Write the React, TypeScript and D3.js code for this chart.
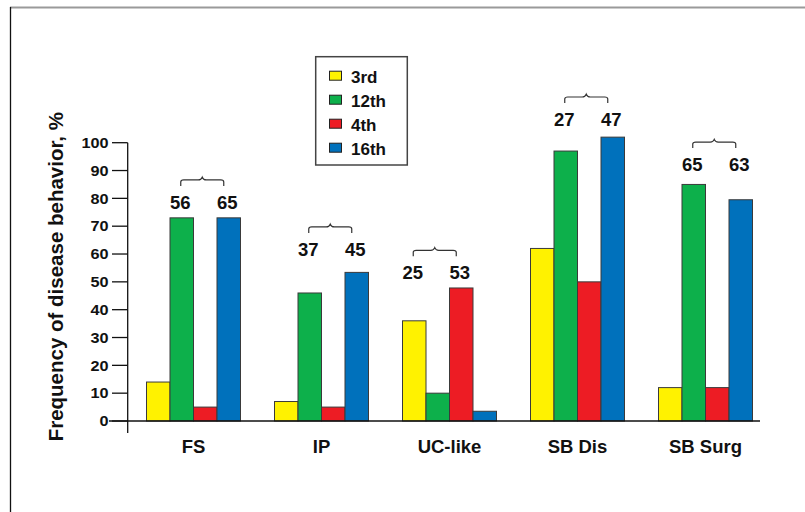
import React from "react";
import * as d3 from "d3";

const categories = ["FS", "IP", "UC-like", "SB Dis", "SB Surg"];
const seriesKeys = ["3rd", "12th", "4th", "16th"];
const values3rd = [14, 7, 36, 62, 12];
const values12th = [73, 46, 10, 97, 85];
const values4th = [5, 5, 47.8, 50, 12];
const values16th = [73, 53.4, 3.5, 102, 79.5];
const yTicks = [0, 10, 20, 30, 40, 50, 60, 70, 80, 90, 100];

// annotation pairs: which two series each bracket covers, their labels, and the label level (in %)
const annotLeftSeries = ["12th", "12th", "3rd", "12th", "12th"];
const annotRightSeries = ["16th", "16th", "4th", "16th", "16th"];
const annotLeftLabels = ["56", "37", "25", "27", "65"];
const annotRightLabels = ["65", "45", "53", "47", "63"];
const annotLevel = [76.2, 59.3, 50.9, 106, 89.8];

const colors: Record<string, string> = {
  "3rd": "#fff200",
  "12th": "#0db04b",
  "4th": "#ed1c24",
  "16th": "#0071bc",
};

const seriesValues: Record<string, number[]> = {
  "3rd": values3rd,
  "12th": values12th,
  "4th": values4th,
  "16th": values16th,
};

const FONT = "'Liberation Sans', Arial, Helvetica, sans-serif";

export default function App() {
  const W = 805;
  const H = 512;
  const x0 = 127.7;
  const yScale = d3.scaleLinear().domain([0, 100]).range([421, 142.7]);
  const xGroup = d3.scalePoint<string>().domain(categories).range([193.5, 705.5]);
  const xSub = d3.scaleBand<string>().domain(seriesKeys).range([-47, 47]).padding(0);
  const bw = xSub.bandwidth();

  const bracePath = (xa: number, xb: number, base: number) => {
    const yEnd = base - 23;
    const yLine = base - 29;
    const yPeak = base - 31.7;
    const xm = (xa + xb) / 2;
    return `M${xa},${yEnd} L${xa},${yLine + 2} Q${xa},${yLine} ${xa + 3},${yLine} L${xm - 4},${yLine} Q${xm - 1},${yLine} ${xm},${yPeak} Q${xm + 1},${yLine} ${xm + 4},${yLine} L${xb - 3},${yLine} Q${xb},${yLine} ${xb},${yLine + 2} L${xb},${yEnd}`;
  };

  return (
    <svg
      width={W}
      height={H}
      style={{ position: "absolute", left: 0, top: 0, background: "#fff" }}
      fontFamily={FONT}
    >
      <rect x={0} y={0} width={W} height={H} fill="#fff" />
      {/* frame */}
      <line x1={10} x2={W} y1={7.5} y2={7.5} stroke="#9a9a9a" strokeWidth={2} />
      <line x1={10.5} x2={10.5} y1={7} y2={H} stroke="#111" strokeWidth={1.3} />

      {/* bars */}
      {categories.map((c, i) => (
        <g key={c}>
          {seriesKeys.map((k) => {
            const v = seriesValues[k][i];
            const x = (xGroup(c) as number) + (xSub(k) as number);
            return (
              <rect
                key={k}
                x={x}
                y={yScale(v)}
                width={bw}
                height={yScale(0) - yScale(v)}
                fill={colors[k]}
                stroke="#3a3a3a"
                strokeWidth={1}
              />
            );
          })}
        </g>
      ))}

      {/* axes */}
      <line x1={x0} x2={x0} y1={yScale(100)} y2={433} stroke="#111" strokeWidth={1.3} />
      <line x1={109} x2={760} y1={yScale(0)} y2={yScale(0)} stroke="#111" strokeWidth={1.3} />
      {yTicks.map((t) => (
        <g key={t}>
          <line x1={112} x2={x0} y1={yScale(t)} y2={yScale(t)} stroke="#111" strokeWidth={1.3} />
          <text
            transform={`translate(108.5,${yScale(t) + 5.3}) scale(1.12,1)`}
            textAnchor="end"
            fontSize={14.5}
            fontWeight="bold"
            fill="#111"
          >
            {t}
          </text>
        </g>
      ))}

      {/* category labels */}
      {categories.map((c) => (
        <text
          key={c}
          x={xGroup(c) as number}
          y={453}
          textAnchor="middle"
          fontSize={18.5}
          fontWeight="bold"
          fill="#111"
        >
          {c}
        </text>
      ))}

      {/* y title */}
      <text
        transform={`translate(62.7,276.7) rotate(-90)`}
        textAnchor="middle"
        fontSize={20.5}
        fontWeight="bold"
        fill="#111"
      >
        Frequency of disease behavior, %
      </text>

      {/* annotations */}
      {categories.map((c, i) => {
        const gx = xGroup(c) as number;
        const xl = gx + (xSub(annotLeftSeries[i]) as number) + bw / 2;
        const xr = gx + (xSub(annotRightSeries[i]) as number) + bw / 2;
        const base = yScale(annotLevel[i]);
        return (
          <g key={c}>
            <path d={bracePath(xl - 1, xr - 5, base)} fill="none" stroke="#333" strokeWidth={1.2} />
            <text x={xl - 1.5} y={base} textAnchor="middle" fontSize={18.5} fontWeight="bold" fill="#111">
              {annotLeftLabels[i]}
            </text>
            <text x={xr - 1.5} y={base} textAnchor="middle" fontSize={18.5} fontWeight="bold" fill="#111">
              {annotRightLabels[i]}
            </text>
          </g>
        );
      })}

      {/* legend */}
      <rect x={315.7} y={56.7} width={91.6} height={108.3} fill="#fff" stroke="#444" strokeWidth={1.5} />
      {seriesKeys.map((k, j) => {
        const cy = 75.7 + j * 24;
        return (
          <g key={k}>
            <rect x={329.5} y={cy - 4.5} width={12} height={9} fill={colors[k]} stroke="#222" strokeWidth={1} />
            <text x={351} y={cy + 7.5} fontSize={17} fontWeight="bold" fill="#111">
              {k}
            </text>
          </g>
        );
      })}
    </svg>
  );
}
